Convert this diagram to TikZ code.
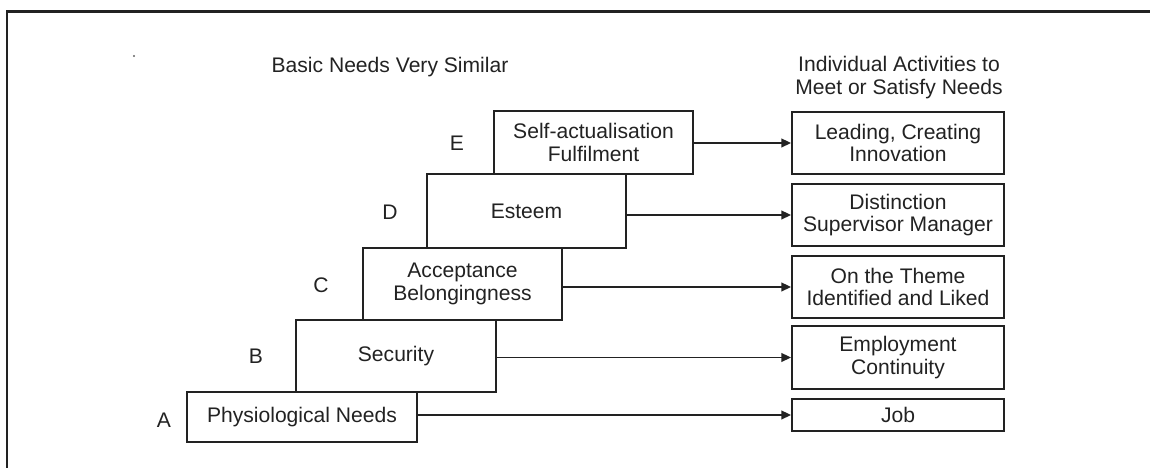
\documentclass[tikz,border=0pt]{standalone}
\usepackage{fontspec}
\setmainfont{Liberation Sans}
\usetikzlibrary{arrows.meta, positioning}
\definecolor{needink}{HTML}{222222}

\begin{document}
\begin{tikzpicture}[
  font=\fontsize{12}{13}\selectfont,
  every node/.style={text=needink},
  need/.style={draw=needink, line width=1.1pt, align=center, inner sep=0pt, minimum width=3.98cm},
  act/.style={draw=needink, line width=1.1pt, align=center, inner sep=0pt, minimum width=4.24cm},
  flow/.style={needink, line width=0.85pt, -{Triangle[length=5.5pt,width=5pt]}}
]
  \useasboundingbox (0,0) rectangle (23,9.36);

  % Frame (top and left edge only)
  \draw[needink, line width=1.7pt] (0.14,0) |- (23,9.12);
  \fill[needink!70] (2.68,8.24) circle (0.6pt);

  % Headings
  \node (basic) at (7.8,8.02) {Basic Needs Very Similar};
  \node[align=center] (activities) at (17.98,7.81) {Individual Activities to\\Meet or Satisfy Needs};

  % Staircase of needs
  \node[need, minimum height=1.26cm] (selfact) at (11.87,6.51) {Self-actualisation\\Fulfilment};
  \node[need, minimum height=1.48cm] (esteem) at (10.53,5.14) {Esteem};
  \node[need, minimum height=1.44cm] (accept) at (9.25,3.68) {Acceptance\\Belongingness};
  \node[need, minimum height=1.44cm, minimum width=4cm] (security) at (7.92,2.24) {Security};
  \node[need, minimum height=1cm, minimum width=4.6cm] (physio) at (6.04,1.02) {Physiological Needs};

  % Level letters
  \node (lvlE) at (9.14,6.5) {E};
  \node (lvlD) at (7.8,5.12) {D};
  \node (lvlC) at (6.42,3.66) {C};
  \node (lvlB) at (5.12,2.24) {B};
  \node (lvlA) at (3.28,0.96) {A};

  % Activities column
  \node[act, minimum height=1.24cm] (leading) at (17.96,6.5) {Leading, Creating\\Innovation};
  \node[act, minimum height=1.24cm] (distinct) at (17.96,5.06) {Distinction\\Supervisor Manager};
  \node[act, minimum height=1.24cm] (theme) at (17.96,3.62) {On the Theme\\Identified and Liked};
  \node[act, minimum height=1.26cm] (employ) at (17.96,2.21) {Employment\\Continuity};
  \node[act, minimum height=0.64cm] (job) at (17.96,1.06) {Job};

  % Need -> activity
  \foreach \src/\dst in {selfact/leading, esteem/distinct, accept/theme, security/employ, physio/job}
    \draw[flow] (\dst.west -| \src.east) -- (\dst.west);
\end{tikzpicture}
\end{document}
